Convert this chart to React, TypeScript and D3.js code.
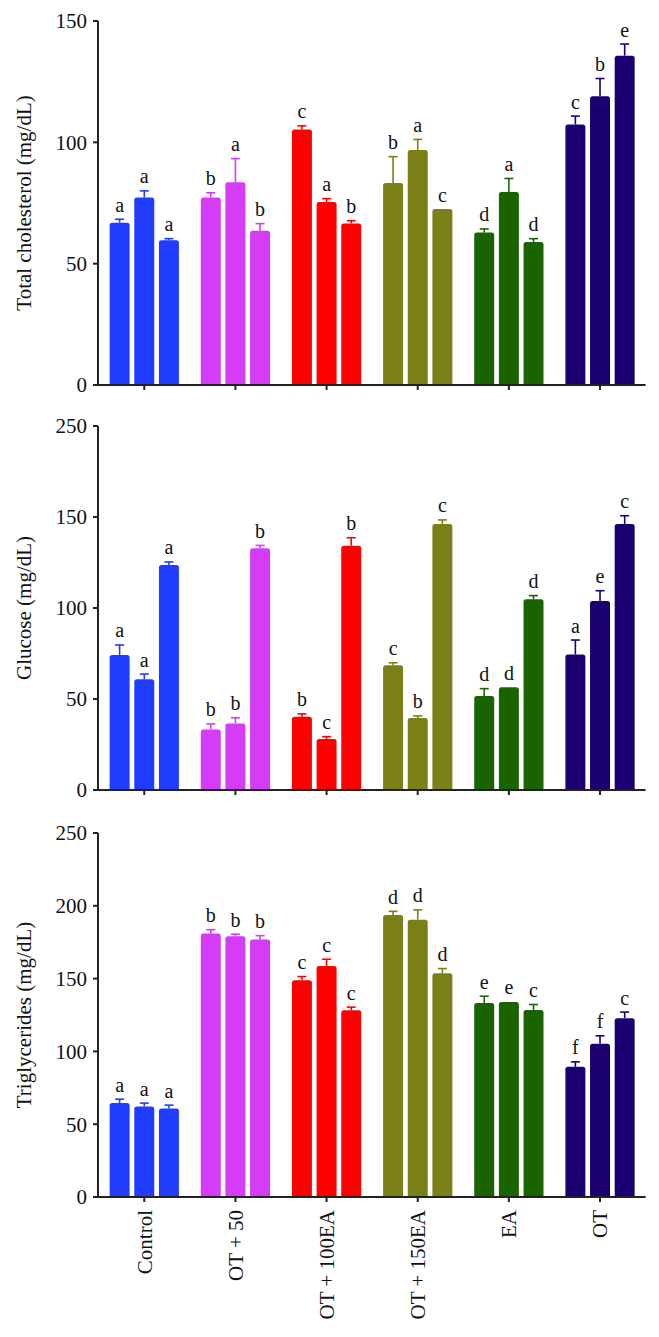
import React from "react";
import * as d3 from "d3";

const groups = ["Control", "OT + 50", "OT + 100EA", "OT + 150EA", "EA", "OT"];
const groupColors = ["#1f3cff", "#d43cf8", "#ff0000", "#7b8016", "#1a6400", "#1c0072"];

const cholMean = [[66.9, 77.3, 59.7], [77.3, 83.5, 63.6], [105.3, 75.4, 66.6], [83.2, 96.8, 72.5], [62.8, 79.5, 58.9], [107.4, 119.0, 135.7]];
const cholErr = [[1.4, 2.7, 0.6], [1.9, 9.8, 2.9], [1.5, 1.4, 1.1], [10.9, 4.4, 0], [1.5, 5.6, 1.4], [3.4, 7.3, 4.8]];
const cholLetters = [["a", "a", "a"], ["b", "a", "b"], ["c", "a", "b"], ["b", "a", "c"], ["d", "a", "d"], ["c", "b", "e"]];
const cholTicks = [0, 50, 100, 150];
const cholTickLabels = ["0", "50", "100", "150"];

const gluMean = [[74.2, 60.8, 123.6], [33.3, 36.6, 132.8], [40.3, 28.0, 134.2], [68.5, 39.6, 146.2], [51.6, 56.4, 104.8], [74.5, 103.8, 146.2]];
const gluErr = [[5.5, 2.9, 1.7], [3.0, 3.1, 1.6], [1.5, 1.3, 4.4], [1.4, 1.1, 2.2], [4.1, 0, 2.0], [7.9, 5.7, 4.5]];
const gluLetters = [["a", "a", "a"], ["b", "b", "b"], ["b", "c", "b"], ["c", "b", "c"], ["d", "d", "d"], ["a", "e", "c"]];
const gluTicks = [0, 50, 100, 150, 200];
const gluTickLabels = ["0", "50", "100", "150", "250"];

const triMean = [[64.5, 62.2, 60.8], [180.9, 179.1, 176.8], [148.9, 158.7, 128.3], [193.7, 190.5, 153.7], [133.3, 134.0, 128.5], [89.4, 105.2, 122.8]];
const triErr = [[2.7, 2.3, 2.3], [2.7, 1.4, 2.7], [2.5, 4.6, 2.1], [2.5, 6.7, 3.2], [4.6, 0, 3.7], [3.4, 5.5, 4.2]];
const triLetters = [["a", "a", "a"], ["b", "b", "b"], ["c", "c", "c"], ["d", "d", "d"], ["e", "e", "c"], ["f", "f", "c"]];
const triTicks = [0, 50, 100, 150, 200, 250];
const triTickLabels = ["0", "50", "100", "150", "200", "250"];

const FONT = "'Liberation Serif', 'Times New Roman', serif";
const AXIS_X = 98;
const PLOT_H = 364;

const xGroup = d3.scaleBand<string>().domain(groups).range([98.7, 645.6]).paddingInner(0.24).paddingOuter(0.12);
const xSub = d3.scaleBand<number>().domain([0, 1, 2]).range([0, xGroup.bandwidth()]).paddingInner(0.19);

function barPath(x: number, y: number, w: number, h: number, r: number) {
  const rr = Math.min(r, h / 2, w / 2);
  const p = d3.path();
  p.moveTo(x, y + h);
  p.lineTo(x, y + rr);
  p.quadraticCurveTo(x, y, x + rr, y);
  p.lineTo(x + w - rr, y);
  p.quadraticCurveTo(x + w, y, x + w, y + rr);
  p.lineTo(x + w, y + h);
  p.closePath();
  return p.toString();
}

type PanelProps = {
  top: number;
  max: number;
  means: number[][];
  errs: number[][];
  letters: string[][];
  ticks: number[];
  tickLabels: string[];
  title: string;
  showX: boolean;
};

function Panel({ top, max, means, errs, letters, ticks, tickLabels, title, showX }: PanelProps) {
  const y = d3.scaleLinear().domain([0, max]).range([top + PLOT_H, top]);
  const y0 = y(0);
  const right = 645.6;
  return (
    <g>
      {groups.map((g, gi) => (
        <g key={g}>
          {means[gi].map((m, bi) => {
            const bx = (xGroup(g) as number) + (xSub(bi) as number);
            const bw = xSub.bandwidth();
            const yt = y(m);
            const ye = y(m + errs[gi][bi]);
            const cx = bx + bw / 2;
            const color = groupColors[gi];
            return (
              <g key={bi}>
                {errs[gi][bi] > 0 && (
                  <g stroke={color} strokeWidth={1.6}>
                    <line x1={cx} x2={cx} y1={yt} y2={ye} />
                    <line x1={cx - 4.5} x2={cx + 4.5} y1={ye} y2={ye} />
                  </g>
                )}
                <path d={barPath(bx, yt, bw, y0 - yt, 2.5)} fill={color} />
                <text
                  x={cx}
                  y={Math.min(ye, yt) - 7.5}
                  textAnchor="middle"
                  fontFamily={FONT}
                  fontSize={20}
                  fill="#111"
                >
                  {letters[gi][bi]}
                </text>
              </g>
            );
          })}
        </g>
      ))}
      {/* y axis */}
      <line x1={AXIS_X} x2={AXIS_X} y1={y(max)} y2={y0 + 1} stroke="#222" strokeWidth={2} />
      {ticks.map((t, i) => (
        <g key={t}>
          <line x1={AXIS_X - 5} x2={AXIS_X} y1={y(t)} y2={y(t)} stroke="#222" strokeWidth={2} />
          <text
            x={87}
            y={y(t)}
            dy="0.35em"
            textAnchor="end"
            fontFamily={FONT}
            fontSize={21}
            fill="#111"
          >
            {tickLabels[i]}
          </text>
        </g>
      ))}
      {/* x axis */}
      <line x1={AXIS_X - 1} x2={right} y1={y0} y2={y0} stroke="#222" strokeWidth={2} />
      {groups.map((g) => {
        const cx = (xGroup(g) as number) + xGroup.bandwidth() / 2;
        return <line key={g} x1={cx} x2={cx} y1={y0} y2={y0 + 5} stroke="#222" strokeWidth={2} />;
      })}
      {showX &&
        groups.map((g) => {
          const cx = (xGroup(g) as number) + xGroup.bandwidth() / 2;
          return (
            <text
              key={g}
              transform={`translate(${cx},${y0 + 13}) rotate(-90)`}
              textAnchor="end"
              dy="0.35em"
              fontFamily={FONT}
              fontSize={21}
              fill="#111"
            >
              {g}
            </text>
          );
        })}
      <text
        transform={`translate(31,${top + PLOT_H / 2}) rotate(-90)`}
        textAnchor="middle"
        fontFamily={FONT}
        fontSize={21}
        fill="#111"
      >
        {title}
      </text>
    </g>
  );
}

export default function App() {
  return (
    <svg
      width={659}
      height={1337}
      viewBox="0 0 659 1337"
      style={{ position: "absolute", left: 0, top: 0, display: "block", background: "#fff" }}
    >
      <rect x={0} y={0} width={659} height={1337} fill="#fff" />
      <Panel top={21} max={150} means={cholMean} errs={cholErr} letters={cholLetters} ticks={cholTicks} tickLabels={cholTickLabels} title="Total cholesterol (mg/dL)" showX={false} />
      <Panel top={426} max={200} means={gluMean} errs={gluErr} letters={gluLetters} ticks={gluTicks} tickLabels={gluTickLabels} title="Glucose (mg/dL)" showX={false} />
      <Panel top={833} max={250} means={triMean} errs={triErr} letters={triLetters} ticks={triTicks} tickLabels={triTickLabels} title="Triglycerides (mg/dL)" showX={true} />
    </svg>
  );
}
